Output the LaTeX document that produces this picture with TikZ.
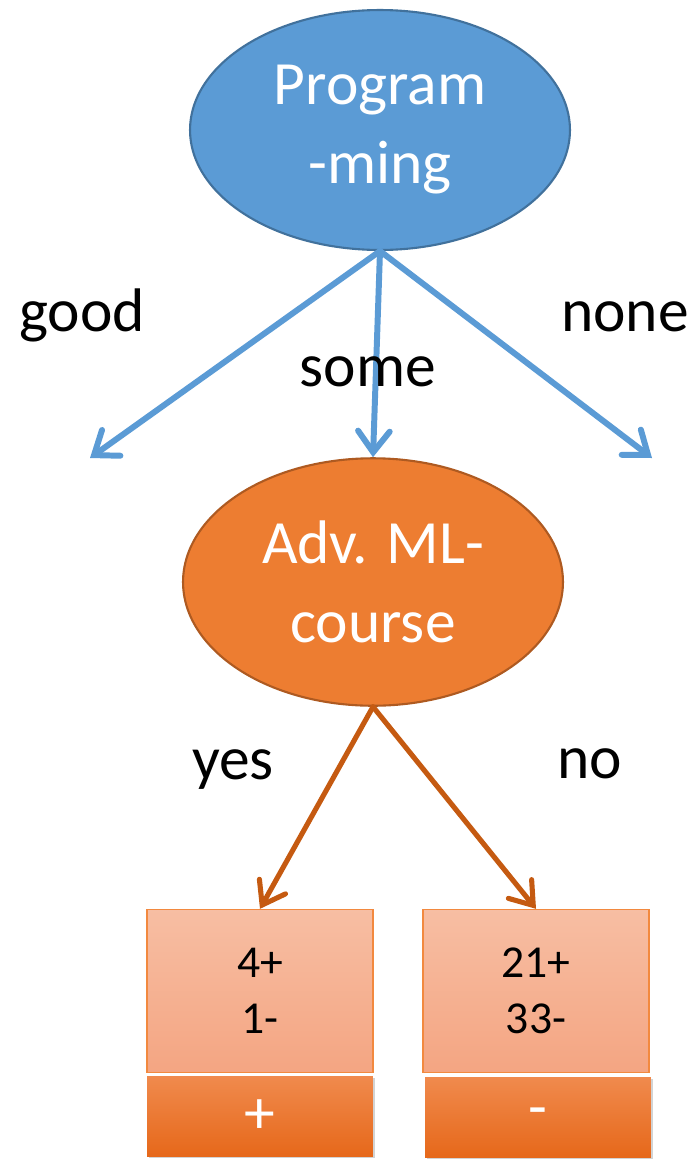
\documentclass[tikz,border=0pt]{standalone}
\usepackage{fontspec}
\setmainfont{Carlito}
\usetikzlibrary{arrows.meta,shapes.geometric,shadows}
\definecolor{progblue}{HTML}{5B9BD5}
\definecolor{progline}{HTML}{41719C}
\definecolor{advorange}{HTML}{ED7D31}
\definecolor{advline}{HTML}{AE5A21}
\definecolor{advarrow}{HTML}{C55A11}
\definecolor{leaftop}{HTML}{F7BEA3}
\definecolor{leafbot}{HTML}{F4A582}
\definecolor{leafline}{HTML}{F2893F}
\definecolor{classtop}{HTML}{F08A4D}
\definecolor{classmid}{HTML}{F57E2A}
\definecolor{classbot}{HTML}{E6681A}
\tikzset{
  bigtext/.style={font=\fontsize{35}{45}\selectfont},
  smalltext/.style={font=\fontsize{26}{32}\selectfont},
  testnode/.style={ellipse,draw,line width=1.2pt,minimum width=7.6cm,minimum height=4.8cm,
    text=white,align=center,bigtext,inner sep=0pt},
  branchlabel/.style={bigtext,inner sep=0pt},
  leafbox/.style={rectangle,draw=leafline,line width=0.8pt,top color=leaftop,bottom color=leafbot,
    minimum width=4.52cm,minimum height=3.26cm,align=center,smalltext,inner sep=0pt},
  classbox/.style={rectangle,top color=classtop,middle color=classmid,bottom color=classbot,
    minimum width=4.52cm,minimum height=1.6cm,text=white,bigtext,inner sep=0pt,
    drop shadow={opacity=0.35,shadow xshift=0.04cm,shadow yshift=-0.04cm}},
  bluearrow/.style={draw=progblue,line width=3.4pt,line cap=round,
    -{Straight Barb[length=12pt,width=18pt,line cap=round]}},
  orangearrow/.style={draw=advarrow,line width=2.9pt,line cap=round,
    -{Straight Barb[length=12pt,width=17pt,line cap=round]}}
}
\begin{document}
\begin{tikzpicture}[x=0.02cm,y=-0.02cm]
    \useasboundingbox (0,0) rectangle (697,1160);
    %% Root test
    \node[testnode,fill=progblue,draw=progline] (prog) at (380,130) {Program\\-ming};
    \coordinate (goodend) at (90,458);
    \coordinate (noneend) at (652,458);
    %% Second test
    \node[testnode,fill=advorange,draw=advline,minimum height=4.95cm] (course) at (373,582) {Adv. ML-\\course};
    %% Branches of the root
    \draw[bluearrow] (prog.south) -- (goodend);
    \draw[bluearrow] (prog.south) -- (course.north);
    \draw[bluearrow] (prog.south) -- (noneend);
    \node[branchlabel] (good) at (82,315) {good};
    \node[branchlabel] (some) at (368,372) {some};
    \node[branchlabel] (none) at (625,317) {none};
    %% Leaves
    \node[leafbox] (leafpos) at (260,991) {4+\\1-};
    \node[leafbox] (leafneg) at (536,991) {21+\\33-};
    \node[classbox,anchor=north] (classpos) at (260,1076) {+};
    \node[classbox,anchor=north] (classneg) at (538,1077) {-};
    %% Branches of the second test
    \draw[orangearrow] (course.south) -- (leafpos.north);
    \draw[orangearrow] (course.south) -- (leafneg.north);
    \node[branchlabel] (yes) at (233,770) {yes};
    \node[branchlabel] (no) at (590,764) {no};
\end{tikzpicture}
\end{document}
